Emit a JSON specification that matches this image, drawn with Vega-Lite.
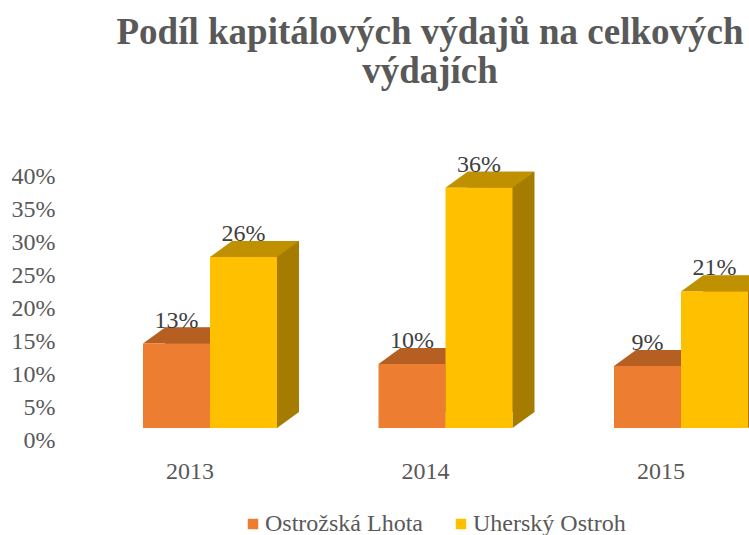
{
  "$schema": "https://vega.github.io/schema/vega-lite/v6.json",
  "autosize": {"type": "none"},
  "padding": {"left": 65, "top": 176, "right": 0, "bottom": 95},
  "width": 684,
  "height": 264,
  "background": "white",
  "title": {
    "text": ["Podíl kapitálových  výdajů na celkových", "výdajích"],
    "font": "Liberation Serif",
    "fontSize": 37,
    "fontWeight": "bold",
    "color": "#595959",
    "anchor": "middle",
    "frame": "group",
    "dx": 23,
    "lineHeight": 39,
    "offset": 62
  },
  "data": {
    "values": [
      {"year": "2013", "series": "Ostrožská Lhota", "value": 0.128},
      {"year": "2013", "series": "Uherský Ostroh", "value": 0.259},
      {"year": "2014", "series": "Ostrožská Lhota", "value": 0.097},
      {"year": "2014", "series": "Uherský Ostroh", "value": 0.364},
      {"year": "2015", "series": "Ostrožská Lhota", "value": 0.094},
      {"year": "2015", "series": "Uherský Ostroh", "value": 0.207}
    ]
  },
  "encoding": {
    "x": {
      "field": "year",
      "type": "nominal",
      "scale": {"range": [78, 683], "paddingInner": 0.431, "paddingOuter": 0},
      "axis": {
        "title": null,
        "labelAngle": 0,
        "ticks": false,
        "tickSize": 0,
        "domain": false,
        "labelPadding": 19,
        "labelOffset": -20,
        "labelFont": "Liberation Serif",
        "labelFontSize": 24,
        "labelColor": "#595959"
      }
    },
    "y": {
      "field": "value",
      "type": "quantitative",
      "scale": {"domain": [0, 0.4], "nice": false},
      "axis": {
        "title": null,
        "values": [0, 0.05, 0.1, 0.15, 0.2, 0.25, 0.3, 0.35, 0.4],
        "tickCount": 9,
        "format": ".0%",
        "grid": false,
        "domain": false,
        "ticks": false,
        "tickSize": 0,
        "labelOverlap": false,
        "labelPadding": 10,
        "labelFont": "Liberation Serif",
        "labelFontSize": 24,
        "labelColor": "#595959"
      }
    }
  },
  "layer": [
    {
      "mark": {"type": "bar", "yOffset": -28, "y2Offset": -28},
      "encoding": {
        "xOffset": {"field": "series", "type": "nominal", "sort": ["Ostrožská Lhota", "Uherský Ostroh"], "scale": {"range": [22, 156]}},
        "y2": {"datum": 0},
        "fill": {
          "condition": {"test": "datum.series === 'Ostrožská Lhota'", "value": "#9C4F1B"},
          "value": "#A57C00"
        }
      }
    },
    {
      "mark": {"type": "point", "filled": true, "opacity": 1, "strokeWidth": 0, "size": 4, "yOffset": -12, "shape": "M 33.5 -16 L 33.5 0 L 55.5 -16 Z"},
      "encoding": {
        "xOffset": {"field": "series", "type": "nominal", "sort": ["Ostrožská Lhota", "Uherský Ostroh"]},
        "y": {"datum": 0, "type": "quantitative"},
        "fill": {
          "condition": {"test": "datum.series === 'Ostrožská Lhota'", "value": "#9C4F1B"},
          "value": "#A57C00"
        }
      }
    },
    {
      "mark": {"type": "point", "filled": true, "opacity": 1, "strokeWidth": 0, "size": 4, "yOffset": -12, "shape": "M -33.5 0 L 33.5 0 L 55.5 -16 L -11.5 -16 Z"},
      "encoding": {
        "xOffset": {"field": "series", "type": "nominal", "sort": ["Ostrožská Lhota", "Uherský Ostroh"]},
        "fill": {
          "condition": {"test": "datum.series === 'Ostrožská Lhota'", "value": "#B65F23"},
          "value": "#BF9000"
        }
      }
    },
    {
      "mark": {"type": "bar", "yOffset": -12, "y2Offset": -12},
      "encoding": {
        "xOffset": {"field": "series", "type": "nominal", "sort": ["Ostrožská Lhota", "Uherský Ostroh"]},
        "y2": {"datum": 0},
        "color": {
          "field": "series",
          "type": "nominal",
          "scale": {"domain": ["Ostrožská Lhota", "Uherský Ostroh"], "range": ["#ED7D31", "#FFC000"]},
          "legend": {
            "title": null,
            "orient": "none",
            "legendX": 176,
            "legendY": 336,
            "direction": "horizontal",
            "symbolType": "square",
            "symbolSize": 110,
            "symbolStrokeWidth": 0,
            "labelFont": "Liberation Serif",
            "labelFontSize": 24,
            "labelColor": "#595959",
            "labelOffset": 0,
            "columnPadding": 26,
            "padding": 0
          }
        }
      }
    },
    {
      "mark": {"type": "text", "yOffset": -28, "baseline": "alphabetic", "align": "center", "font": "Liberation Serif", "fontSize": 24, "color": "#404040"},
      "encoding": {
        "xOffset": {"field": "series", "type": "nominal", "sort": ["Ostrožská Lhota", "Uherský Ostroh"]},
        "text": {"field": "value", "type": "quantitative", "format": ".0%"}
      }
    }
  ],
  "resolve": {"scale": {"xOffset": "independent"}},
  "config": {"view": {"stroke": null}, "axisY": {"labelOverlap": false}}
}
